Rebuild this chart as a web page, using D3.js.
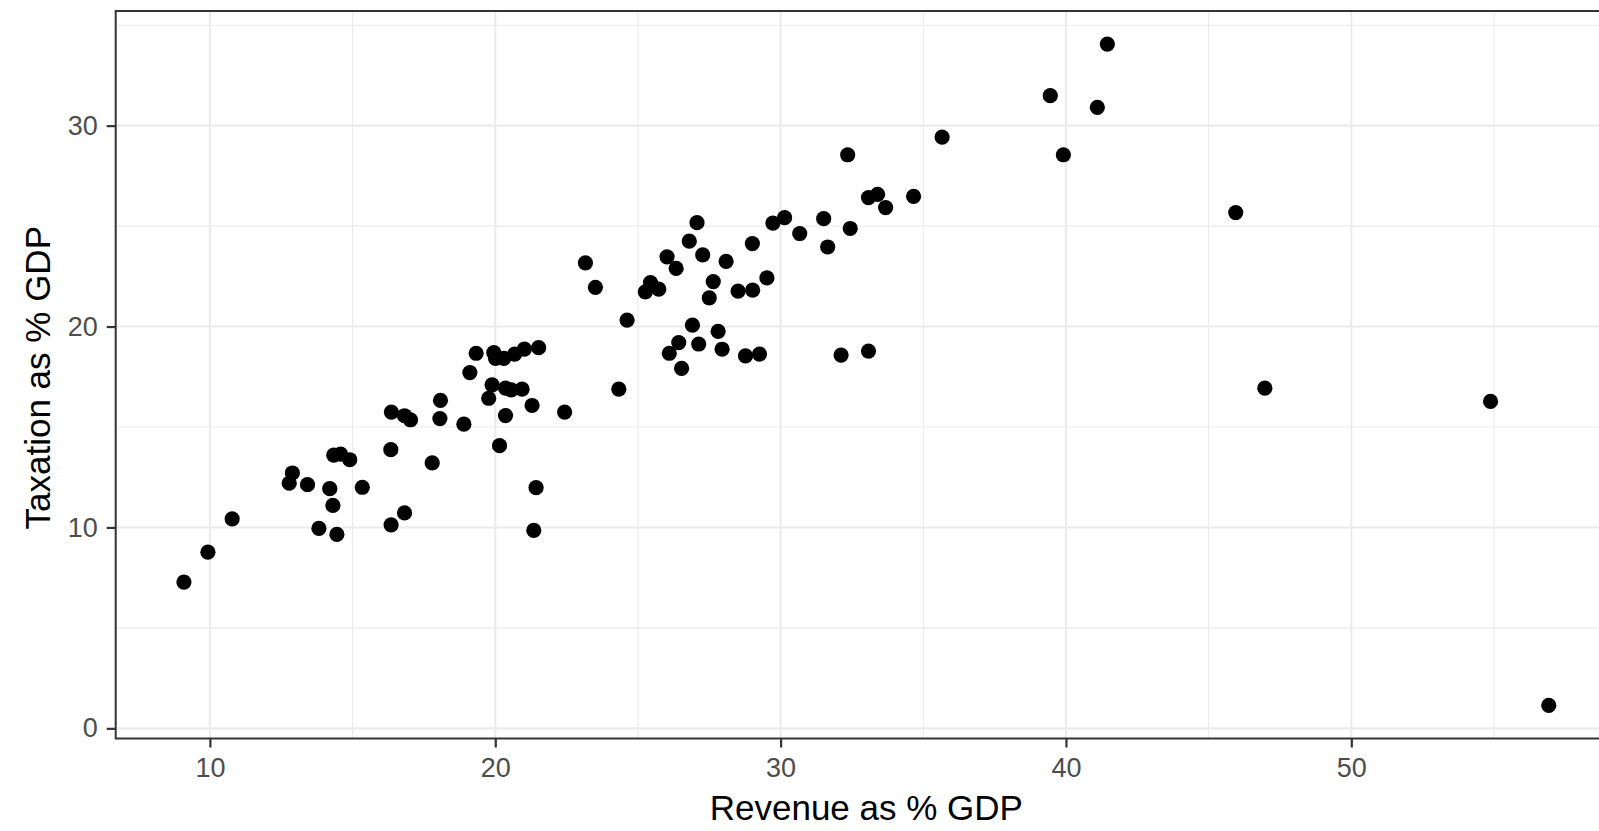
<!DOCTYPE html>
<html>
<head>
<meta charset="utf-8">
<script src="https://cdn.jsdelivr.net/npm/d3@7"></script>
<style>
  html, body { margin: 0; padding: 0; background: #fff; }
  svg { display: block; }
  text { font-family: "Liberation Sans", Arial, Helvetica, sans-serif; }
</style>
</head>
<body>
<div id="chart"></div>
<script>
// Government revenue vs taxation, both as a share of GDP
const revenue = [
  9.09, 9.93, 10.78, 12.78, 12.89, 13.42, 13.82, 14.20, 14.31, 14.45,
  14.34, 14.58, 14.90, 15.34, 16.34, 16.35, 16.82, 16.36, 16.82, 17.03,
  17.79, 18.06, 18.08, 18.90, 19.11, 19.33, 19.77, 19.89, 19.95, 20.01,
  20.15, 20.30, 20.36, 20.36, 20.56, 20.68, 20.94, 21.02, 21.29, 21.43,
  21.35, 21.52, 22.43, 23.16, 23.51, 24.33, 24.62, 25.26, 25.44, 25.73,
  26.02, 26.10, 26.34, 26.43, 26.53, 26.80, 26.91, 27.07, 27.13, 27.27,
  27.50, 27.64, 27.81, 27.95, 28.09, 28.51, 28.77, 29.01, 29.02, 29.26,
  29.52, 29.73, 30.14, 30.67, 31.51, 31.65, 32.12, 32.44, 33.08, 33.08,
  33.40, 33.68, 34.66, 32.35, 35.66, 39.45, 39.91, 41.10, 41.45, 45.95,
  46.97, 54.88, 56.92
];
const taxation = [
  7.28, 8.77, 10.43, 12.20, 12.71, 12.13, 9.95, 11.93, 11.10, 9.65,
  13.60, 13.65, 13.37, 12.00, 13.87, 10.13, 10.72, 15.74, 15.56, 15.36,
  13.21, 15.42, 16.32, 15.14, 17.71, 18.67, 16.43, 17.10, 18.70, 18.42,
  14.07, 18.42, 16.93, 15.57, 16.85, 18.63, 16.88, 18.88, 16.07, 11.98,
  9.85, 18.95, 15.74, 23.17, 21.95, 16.88, 20.32, 21.73, 22.19, 21.86,
  23.47, 18.67, 22.89, 19.20, 17.92, 24.25, 20.07, 25.17, 19.13, 23.57,
  21.43, 22.24, 19.76, 18.87, 23.24, 21.76, 18.54, 24.13, 21.81, 18.63,
  22.42, 25.15, 25.42, 24.63, 25.37, 23.96, 18.58, 24.88, 18.78, 26.42,
  26.58, 25.92, 26.48, 28.55, 29.43, 31.49, 28.55, 30.91, 34.06, 25.67,
  16.93, 16.27, 1.14
];
const xTicks = [10, 20, 30, 40, 50];
const yTicks = [0, 10, 20, 30];
const xMinor = [5, 15, 25, 35, 45, 55];
const yMinor = [5, 15, 25, 35];
const xTitle = "Revenue as % GDP";
const yTitle = "Taxation as % GDP";

const points = revenue.map((r, i) => ({ x: r, y: taxation[i] }));

const W = 1599, H = 831;
const panel = { left: 115.7, top: 11, right: 1617, bottom: 738.5 };

// ggplot-style 5% expansion of the data range
function expand(ext, f = 0.05) {
  const d = (ext[1] - ext[0]) * f;
  return [ext[0] - d, ext[1] + d];
}

const x = d3.scaleLinear()
  .domain(expand(d3.extent(revenue)))
  .range([panel.left, panel.right]);
const y = d3.scaleLinear()
  .domain(expand(d3.extent(taxation)))
  .range([panel.bottom, panel.top]);

const svg = d3.select("#chart").append("svg")
  .attr("width", W).attr("height", H);

const pw = panel.right - panel.left, ph = panel.bottom - panel.top;

svg.append("rect")
  .attr("x", panel.left).attr("y", panel.top)
  .attr("width", pw).attr("height", ph)
  .attr("fill", "#fff");

const grid = svg.append("g").attr("stroke", "#EBEBEB").attr("fill", "none");

// minor grid
grid.selectAll("line.xminor").data(xMinor.filter(v => x(v) > panel.left && x(v) < panel.right))
  .join("line").attr("class", "xminor")
  .attr("x1", d => x(d)).attr("x2", d => x(d))
  .attr("y1", panel.top).attr("y2", panel.bottom)
  .attr("stroke-width", 1.1);
grid.selectAll("line.yminor").data(yMinor.filter(v => y(v) > panel.top && y(v) < panel.bottom))
  .join("line").attr("class", "yminor")
  .attr("y1", d => y(d)).attr("y2", d => y(d))
  .attr("x1", panel.left).attr("x2", panel.right)
  .attr("stroke-width", 1.1);

// major grid
grid.selectAll("line.xmajor").data(xTicks)
  .join("line").attr("class", "xmajor")
  .attr("x1", d => x(d)).attr("x2", d => x(d))
  .attr("y1", panel.top).attr("y2", panel.bottom)
  .attr("stroke-width", 2.1);
grid.selectAll("line.ymajor").data(yTicks)
  .join("line").attr("class", "ymajor")
  .attr("y1", d => y(d)).attr("y2", d => y(d))
  .attr("x1", panel.left).attr("x2", panel.right)
  .attr("stroke-width", 2.1);

// points
svg.append("g").selectAll("circle").data(points)
  .join("circle")
  .attr("cx", d => x(d.x))
  .attr("cy", d => y(d.y))
  .attr("r", 7.6)
  .attr("fill", "#000");

// panel border
svg.append("rect")
  .attr("x", panel.left).attr("y", panel.top)
  .attr("width", pw).attr("height", ph)
  .attr("fill", "none")
  .attr("stroke", "#333333")
  .attr("stroke-width", 2);

// axes
const xAxis = d3.axisBottom(x).tickValues(xTicks).tickSize(9).tickPadding(10).tickFormat(d3.format("d"));
const yAxis = d3.axisLeft(y).tickValues(yTicks).tickSize(9).tickPadding(9).tickFormat(d3.format("d"));

const gx = svg.append("g").attr("transform", `translate(0,${panel.bottom})`).call(xAxis);
const gy = svg.append("g").attr("transform", `translate(${panel.left},0)`).call(yAxis);

[gx, gy].forEach(g => {
  g.select(".domain").remove();
  g.selectAll(".tick line").attr("stroke", "#333333").attr("stroke-width", 2.2);
  g.selectAll(".tick text")
    .attr("fill", "#4D4D4D")
    .style("font-size", "27px")
    .style("font-family", '"Liberation Sans", Arial, Helvetica, sans-serif');
});

// axis titles
svg.append("text")
  .attr("x", (panel.left + panel.right) / 2)
  .attr("y", 820)
  .attr("text-anchor", "middle")
  .attr("fill", "#000")
  .style("font-size", "35px")
  .text(xTitle);

svg.append("text")
  .attr("transform", `translate(49.5,${(panel.top + panel.bottom) / 2 + 3}) rotate(-90)`)
  .attr("text-anchor", "middle")
  .attr("fill", "#000")
  .style("font-size", "35px")
  .text(yTitle);
</script>
</body>
</html>
